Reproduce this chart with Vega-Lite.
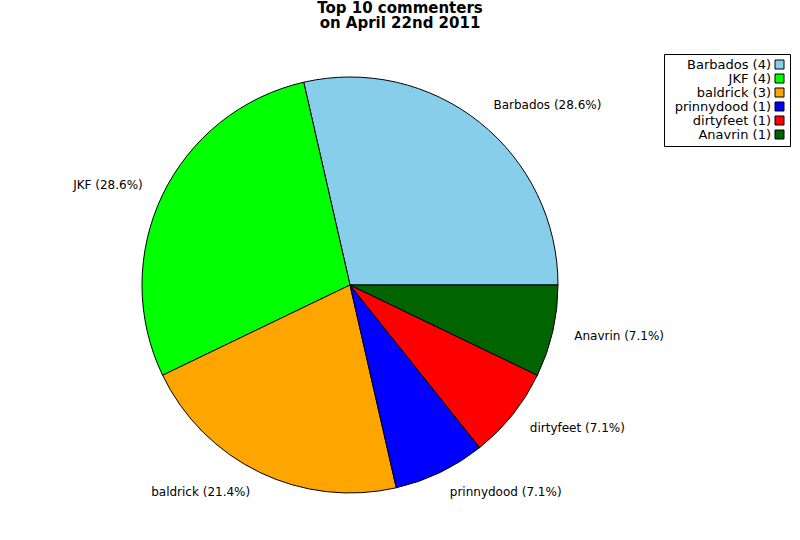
{
  "$schema": "https://vega.github.io/schema/vega-lite/v6.json",
  "description": "Top 10 commenters pie",
  "width": 700,
  "height": 510,
  "autosize": {"type": "none"},
  "padding": {"top": 30, "left": 0, "right": 100, "bottom": 0},
  "background": "white",
  "title": {
    "text": ["Top 10 commenters", "on April 22nd 2011"],
    "font": "DejaVu Sans",
    "fontSize": 15,
    "fontWeight": "bold",
    "lineHeight": 15,
    "anchor": "middle",
    "frame": "group",
    "offset": -1,
    "dx": 50,
    "color": "black"
  },
  "data": {
    "values": [
      {"name": "Barbados", "count": 4, "label": "Barbados (28.6%)", "entry": "Barbados (4)"},
      {"name": "JKF", "count": 4, "label": "JKF (28.6%)", "entry": "JKF (4)"},
      {"name": "baldrick", "count": 3, "label": "baldrick (21.4%)", "entry": "baldrick (3)"},
      {"name": "prinnydood", "count": 1, "label": "prinnydood (7.1%)", "entry": "prinnydood (1)"},
      {"name": "dirtyfeet", "count": 1, "label": "dirtyfeet (7.1%)", "entry": "dirtyfeet (1)"},
      {"name": "Anavrin", "count": 1, "label": "Anavrin (7.1%)", "entry": "Anavrin (1)"}
    ]
  },
  "encoding": {
    "theta": {
      "field": "count",
      "type": "quantitative",
      "stack": true,
      "scale": {"range": [1.5708, -4.7124]}
    },
    "order": {"field": "count", "sort": "descending"},
    "color": {
      "field": "entry",
      "type": "nominal",
      "sort": ["Barbados (4)", "JKF (4)", "baldrick (3)", "prinnydood (1)", "dirtyfeet (1)", "Anavrin (1)"],
      "scale": {
        "domain": ["Barbados (4)", "JKF (4)", "baldrick (3)", "prinnydood (1)", "dirtyfeet (1)", "Anavrin (1)"],
        "range": ["#87ceeb", "#00ff00", "#ffa500", "#0000ff", "#ff0000", "#006400"]
      },
      "legend": {
        "title": null,
        "orient": "none",
        "legendX": 664,
        "legendY": 24,
        "strokeColor": "black",
        "padding": 4,
        "symbolType": "square",
        "symbolSize": 81,
        "symbolStrokeColor": "black",
        "symbolStrokeWidth": 1,
        "symbolOpacity": 1,
        "symbolOffset": 105,
        "labelFont": "DejaVu Sans",
        "labelFontSize": 13,
        "labelColor": "black",
        "labelAlign": "right",
        "labelOffset": -15,
        "rowPadding": -3
      }
    }
  },
  "layer": [
    {
      "mark": {"type": "arc", "radius": 208, "stroke": "black", "strokeWidth": 1}
    },
    {
      "mark": {"type": "text", "radius": 230, "font": "DejaVu Sans", "fontSize": 12, "align": "left", "baseline": "middle", "color": "black"},
      "encoding": {
        "text": {
          "condition": {"test": "datum.name === 'JKF' || datum.name === 'baldrick'", "value": ""},
          "field": "label"
        },
        "color": {"value": "black"}
      }
    },
    {
      "mark": {"type": "text", "radius": 230, "font": "DejaVu Sans", "fontSize": 12, "align": "right", "baseline": "middle", "color": "black"},
      "encoding": {
        "text": {
          "condition": {"test": "datum.name === 'JKF' || datum.name === 'baldrick'", "field": "label"},
          "value": ""
        },
        "color": {"value": "black"}
      }
    }
  ],
  "config": {
    "view": {"stroke": null},
    "legend": {"rowPadding": -3, "labelFontSize": 13}
  }
}
